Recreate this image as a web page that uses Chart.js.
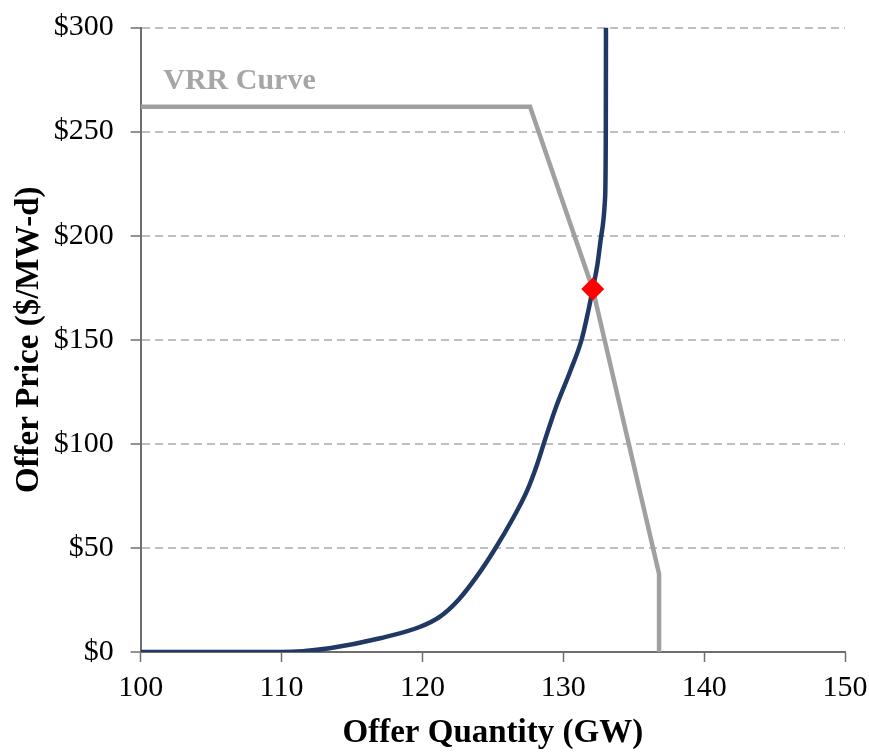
<!DOCTYPE html>
<html>
<head>
<meta charset="utf-8">
<title>VRR Curve vs Supply</title>
<script src="https://cdn.jsdelivr.net/npm/chart.js@4.4.1/dist/chart.umd.min.js"></script>
<style>
  html, body { margin: 0; padding: 0; background: #fff; }
  #wrap { width: 869px; height: 753px; position: relative; }
</style>
</head>
<body>
<div id="wrap"><canvas id="chart" width="869" height="753"></canvas></div>
<script>
'use strict';

// ── data ──────────────────────────────────────────────────────────────────────

// supply curve (offer quantity GW, offer price $/MW-d)
const supplyQty   = [100, 110, 111.5, 113.4, 117.0, 119.8, 121.25, 122.55, 123.85, 125.15, 126.45, 127.4, 128.11, 128.7, 129.45, 130.5, 131.3, 131.78, 132.09, 132.42, 132.73, 132.96, 133.02, 133.03];
const supplyPrice = [0, 0, 0.4, 1.8, 6.6, 12.0, 17.0, 25.0, 36.2, 49.5, 64.5, 77.0, 89.5, 101.9, 117.0, 135.0, 150.0, 164.0, 174.4, 186, 201.4, 217.3, 251, 300];

// VRR curve
const vrrQty   = [100, 127.64, 132.09, 136.8, 136.8];
const vrrPrice = [261.9, 261.9, 174.4, 37.5, 0];

// clearing point
const clearQty   = [132.09];
const clearPrice = [174.4];

const xTicks = [100, 110, 120, 130, 140, 150];
const yTicks = [0, 50, 100, 150, 200, 250, 300];

const vrrLabel = 'VRR Curve';
const vrrLabelAt = { x: 101.6, y: 274 };

// ── helpers ───────────────────────────────────────────────────────────────────

const SERIF = "'Liberation Serif', 'Times New Roman', serif";
const pts = (xs, ys) => xs.map((x, i) => ({ x, y: ys[i] }));

const vrrLabelPlugin = {
  id: 'vrrLabel',
  afterDatasetsDraw(chart) {
    const { ctx, scales } = chart;
    ctx.save();
    ctx.font = 'bold 30px ' + SERIF;
    ctx.fillStyle = '#a6a6a6';
    ctx.textAlign = 'left';
    ctx.textBaseline = 'middle';
    ctx.fillText(vrrLabel, scales.x.getPixelForValue(vrrLabelAt.x), scales.y.getPixelForValue(vrrLabelAt.y));
    ctx.restore();
  }
};

// ── chart ─────────────────────────────────────────────────────────────────────

new Chart(document.getElementById('chart'), {
  type: 'scatter',
  data: {
    datasets: [
      {
        label: 'Clearing',
        data: pts(clearQty, clearPrice),
        pointStyle: 'rectRot',
        pointRadius: 11.5,
        pointBackgroundColor: '#ff0000',
        pointBorderWidth: 0,
        showLine: false,
      },
      {
        label: 'Supply',
        data: pts(supplyQty, supplyPrice),
        showLine: true,
        borderColor: '#1f3864',
        borderWidth: 4.5,
        pointRadius: 0,
        cubicInterpolationMode: 'monotone',
      },
      {
        label: 'VRR Curve',
        data: pts(vrrQty, vrrPrice),
        showLine: true,
        borderColor: '#a0a0a0',
        borderWidth: 4.5,
        pointRadius: 0,
        tension: 0,
      },
    ]
  },
  options: {
    responsive: false,
    animation: false,
    layout: { padding: { top: 27.5, right: 24, left: 0, bottom: 0 } },
    plugins: {
      legend: { display: false },
      tooltip: { enabled: false },
    },
    scales: {
      x: {
        type: 'linear',
        min: 100, max: 150,
        afterBuildTicks: s => { s.ticks = xTicks.map(v => ({ value: v })); },
        afterFit: s => { s.height = 101; s.paddingLeft = 0; s.paddingRight = 0; },
        ticks: { color: '#000', font: { family: SERIF, size: 30 }, padding: 8, maxRotation: 0 },
        grid: { drawOnChartArea: false, drawTicks: true, tickLength: 10, tickColor: '#6e6e6e', tickWidth: 1.5 },
        border: { display: true, color: '#6e6e6e', width: 2 },
        title: {
          display: true,
          text: 'Offer Quantity (GW)',
          color: '#000',
          font: { family: SERIF, size: 33, weight: 'bold', lineHeight: 1.2 },
          padding: { top: 0, bottom: 0 },
        },
      },
      y: {
        type: 'linear',
        min: 0, max: 300,
        afterBuildTicks: s => { s.ticks = yTicks.map(v => ({ value: v })); },
        afterFit: s => { s.width = 140.7; s.paddingTop = 0; s.paddingBottom = 0; },
        ticks: { color: '#000', font: { family: SERIF, size: 30 }, padding: 17, callback: v => '$' + v },
        grid: {
          color: '#c0c0c0',
          lineWidth: 2,
          drawTicks: true,
          tickLength: 10,
          tickColor: '#6e6e6e',
          tickWidth: 1.5,
          tickBorderDash: [],
        },
        border: { display: true, color: '#6e6e6e', width: 2, dash: [8, 5] },
        title: {
          display: true,
          text: 'Offer Price ($/MW-d)',
          color: '#000',
          font: { family: SERIF, size: 33, weight: 'bold', lineHeight: 1.2 },
          padding: { top: 10, bottom: 0 },
        },
      },
    },
  },
  plugins: [vrrLabelPlugin],
});
</script>
</body>
</html>
